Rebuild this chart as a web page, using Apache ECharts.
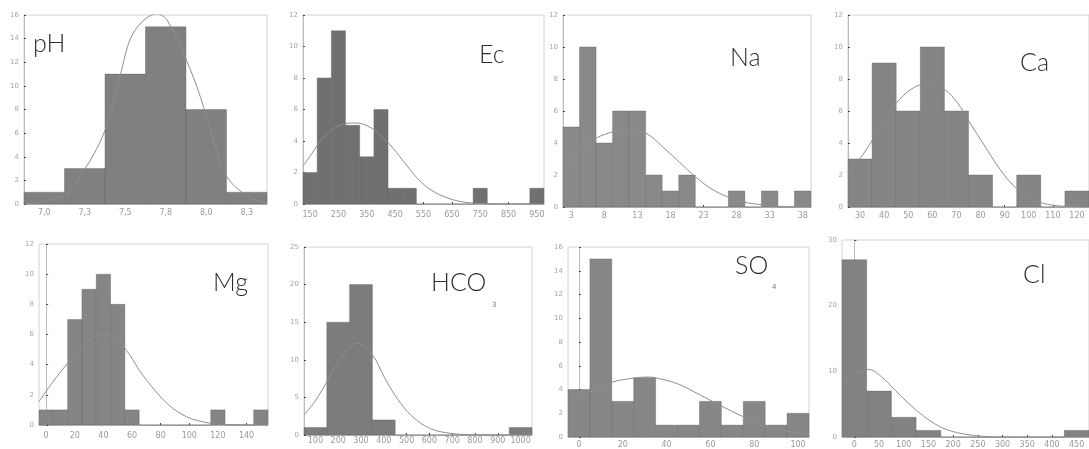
<!DOCTYPE html>
<html>
<head>
<meta charset="utf-8">
<script src="https://cdn.jsdelivr.net/npm/echarts@6/dist/echarts.min.js"></script>
<style>
  html, body { margin: 0; padding: 0; background: #fff; }
  #main { width: 1089px; height: 449px; }
</style>
</head>
<body>
<div id="main"></div>
<script>
// histogram bins: first edge, bin width, counts per bin
var phStart = 6.875, phWidth = 0.25;
var phCounts = [1, 3, 11, 15, 8, 1];
var phTicks = [7.0, 7.25, 7.5, 7.75, 8.0, 8.25];
var phCurve = [[6.877,0],[7.123,0.76],[7.253,3.0],[7.377,6.3],[7.469,10.9],[7.551,14.5],[7.696,16.1],[7.757,15.6],[7.874,12.3],[7.963,9.1],[8.045,5.4],[8.128,2.3],[8.251,0.7],[8.375,0.05]];

var ecStart = 125, ecWidth = 50;
var ecCounts = [2, 8, 11, 5, 3, 6, 1, 1, 0, 0, 0, 0, 1, 0, 0, 0, 1];
var ecTicks = [150, 250, 350, 450, 550, 650, 750, 850, 950];
var ecCurve = [[125,2.4],[160,3.3],[200,4.3],[250,4.95],[300,5.15],[340,5.05],[380,4.65],[430,3.8],[480,2.7],[530,1.6],[580,0.85],[640,0.35],[700,0.1],[760,0.02],[975,0]];

var naStart = 1.75, naWidth = 2.5;
var naCounts = [5, 10, 4, 6, 6, 2, 1, 2, 0, 0, 1, 0, 1, 0, 1];
var naTicks = [3, 8, 13, 18, 23, 28, 33, 38];
var naCurve = [[1.75,2.3],[4.26,3.5],[6.77,4.3],[9.29,4.7],[11.05,4.85],[14.32,4.6],[16.84,3.75],[19.36,2.8],[21.72,1.9],[24.14,1.15],[26.65,0.63],[29.17,0.3],[31.69,0.15],[34.2,0.04],[39.24,0]];

var caStart = 25, caWidth = 10;
var caCounts = [3, 9, 6, 10, 6, 2, 0, 2, 0, 1];
var caTicks = [30, 40, 50, 60, 70, 80, 90, 100, 110, 120];
var caCurve = [[25,2.2],[30.3,3.1],[35.2,4.2],[40,5.4],[45.1,6.5],[51.1,7.35],[57.3,7.7],[64.9,7.35],[70.5,6.5],[75,5.4],[80.1,4.2],[85.2,3.0],[89.8,2.0],[95,1.15],[100.8,0.5],[107.8,0.17],[115,0.04],[125,0]];

var mgStart = -5, mgWidth = 10;
var mgCounts = [1, 1, 7, 9, 10, 8, 1, 0, 0, 0, 0, 0, 1, 0, 0, 1];
var mgTicks = [0, 20, 40, 60, 80, 100, 120, 140];
var mgCurve = [[-5,1.55],[5,2.9],[15,4.1],[25,5.2],[35,5.9],[42,6.0],[50,5.6],[58,4.7],[66,3.5],[76,2.3],[86,1.3],[98,0.55],[110,0.2],[122,0.05],[155,0]];

var hcoStart = 50, hcoWidth = 100;
var hcoCounts = [1, 15, 20, 2, 0, 0, 0, 0, 0, 1];
var hcoTicks = [100, 200, 300, 400, 500, 600, 700, 800, 900, 1000];
var hcoCurve = [[50,2.65],[96,4.4],[151,7.1],[212,10.2],[285,12.2],[351,10.6],[402,7.7],[449,5.3],[504,3.1],[563,1.55],[621,0.66],[694,0.22],[767,0.05],[1050,0]];

var so4Start = -5, so4Width = 10;
var so4Counts = [4, 15, 3, 5, 1, 1, 3, 1, 3, 1, 2];
var so4Ticks = [0, 20, 40, 60, 80, 100];
var so4Curve = [[-5,2.7],[4.9,3.8],[14.8,4.6],[24.7,4.95],[31.6,5.05],[34.6,5.0],[44.8,4.5],[54.7,3.6],[64.6,2.65],[74.7,1.73],[84.9,0.9],[94.8,0.48],[105,0.25]];

var clStart = -25, clWidth = 50;
var clCounts = [27, 7, 3, 1, 0, 0, 0, 0, 0, 1];
var clTicks = [0, 50, 100, 150, 200, 250, 300, 350, 400, 450];
var clCurve = [[-25,8.4],[-0.3,9.65],[28.3,10.3],[55.6,9.15],[82.8,7.1],[110,5.1],[138,3.3],[165,1.9],[192,1.0],[226,0.4],[260,0.1],[301,0],[475,0]];

var names = ['pH', 'Ec', 'Na', 'Ca', 'Mg', 'HCO', 'SO', 'Cl'];
var yMax = [16, 12, 12, 12, 12, 25, 16, 30];
var yStep = [2, 2, 2, 2, 2, 5, 2, 10];

var hists = [
  [phStart, phWidth, phCounts, phTicks, phCurve],
  [ecStart, ecWidth, ecCounts, ecTicks, ecCurve],
  [naStart, naWidth, naCounts, naTicks, naCurve],
  [caStart, caWidth, caCounts, caTicks, caCurve],
  [mgStart, mgWidth, mgCounts, mgTicks, mgCurve],
  [hcoStart, hcoWidth, hcoCounts, hcoTicks, hcoCurve],
  [so4Start, so4Width, so4Counts, so4Ticks, so4Curve],
  [clStart, clWidth, clCounts, clTicks, clCurve]
];

// plot boxes
var boxes = [
  {left: 24,  top: 15,  width: 243, height: 189},
  {left: 303, top: 15,  width: 241, height: 189},
  {left: 563, top: 15,  width: 248, height: 192},
  {left: 848, top: 15,  width: 241, height: 192},
  {left: 39,  top: 244, width: 229, height: 181},
  {left: 304, top: 247, width: 228, height: 188},
  {left: 568, top: 247, width: 241, height: 190},
  {left: 842, top: 240, width: 247, height: 197}
];
var labelMargin = [5, 7, 5, 5, 7, 2, 4, 4];
var barColor = ['#808080', '#707070', '#898989', '#858585', '#858585', '#7c7c7c', '#878787', '#828282'];
var titlePos = [
  [33, 31], [479, 42], [730, 45], [1020, 50], [213, 270], [431, 270], [735, 253], [1023, 262]
];

function renderBar(params, api) {
  var p0 = api.coord([api.value(0), 0]);
  var p1 = api.coord([api.value(1), api.value(2)]);
  return {
    type: 'rect',
    shape: {x: p0[0], y: p1[1], width: p1[0] - p0[0], height: p0[1] - p1[1]},
    style: {fill: api.visual('color'), stroke: 'rgba(90,90,90,0.6)', lineWidth: 0.6}
  };
}

var grid = [], xAxis = [], yAxis = [], series = [], title = [];
hists.forEach(function (h, i) {
  var start = h[0], w = h[1], counts = h[2];
  var bars = counts.map(function (c, k) {
    return [start + k * w, start + (k + 1) * w, c];
  });
  grid.push({
    left: boxes[i].left, top: boxes[i].top, width: boxes[i].width, height: boxes[i].height,
    show: true, borderColor: '#d2d2d2', borderWidth: 1, backgroundColor: '#fff'
  });
  xAxis.push({
    gridIndex: i, type: 'value',
    min: start, max: start + counts.length * w,
    splitLine: {show: false},
    axisLine: {show: true, onZero: false, lineStyle: {color: '#bdbdbd'}},
    axisTick: {show: true, inside: true, length: 2, customValues: h[3], lineStyle: {color: '#444'}},
    axisLabel: {
      customValues: h[3], margin: labelMargin[i], fontSize: 8, color: '#9a9a9a',
      fontFamily: 'DejaVu Sans',
      formatter: i === 0
        ? function (v) { return v.toFixed(1).replace('.', ','); }
        : function (v) { return String(v); }
    }
  });
  yAxis.push({
    gridIndex: i, type: 'value', min: 0, max: yMax[i], interval: yStep[i],
    splitLine: {show: false},
    axisLine: {show: true, lineStyle: {color: '#bdbdbd'}},
    axisTick: {show: true, inside: true, length: 2, lineStyle: {color: '#444'}},
    axisLabel: {fontSize: 7, color: '#a6a6a6', margin: 5, fontFamily: 'DejaVu Sans'}
  });
  series.push({
    type: 'custom', xAxisIndex: i, yAxisIndex: i,
    renderItem: renderBar, data: bars, encode: {x: [0, 1], y: 2},
    itemStyle: {color: barColor[i]}, silent: true
  });
  series.push({
    type: 'line', xAxisIndex: i, yAxisIndex: i, data: h[4],
    smooth: 0.35, showSymbol: false, silent: true, z: 3,
    lineStyle: {color: '#8e8e8e', width: 1}
  });
  title.push({
    text: names[i], left: titlePos[i][0], top: titlePos[i][1], padding: 0,
    textStyle: {fontSize: 25, fontWeight: 300, color: '#2e2e2e', fontFamily: 'Lato'}
  });
});
// subscripts
title.push({text: '3', left: 492, top: 302, padding: 0, textStyle: {fontSize: 7, fontWeight: 'normal', color: '#777', fontFamily: 'DejaVu Sans'}});
title.push({text: '4', left: 772, top: 284, padding: 0, textStyle: {fontSize: 7, fontWeight: 'normal', color: '#777', fontFamily: 'DejaVu Sans'}});

var myChart = echarts.init(document.getElementById('main'));
myChart.setOption({
  animation: false,
  backgroundColor: '#fff',
  title: title,
  grid: grid,
  xAxis: xAxis,
  yAxis: yAxis,
  series: series
});
window.addEventListener('resize', function () {
  myChart.resize();
});
</script>
</body>
</html>
